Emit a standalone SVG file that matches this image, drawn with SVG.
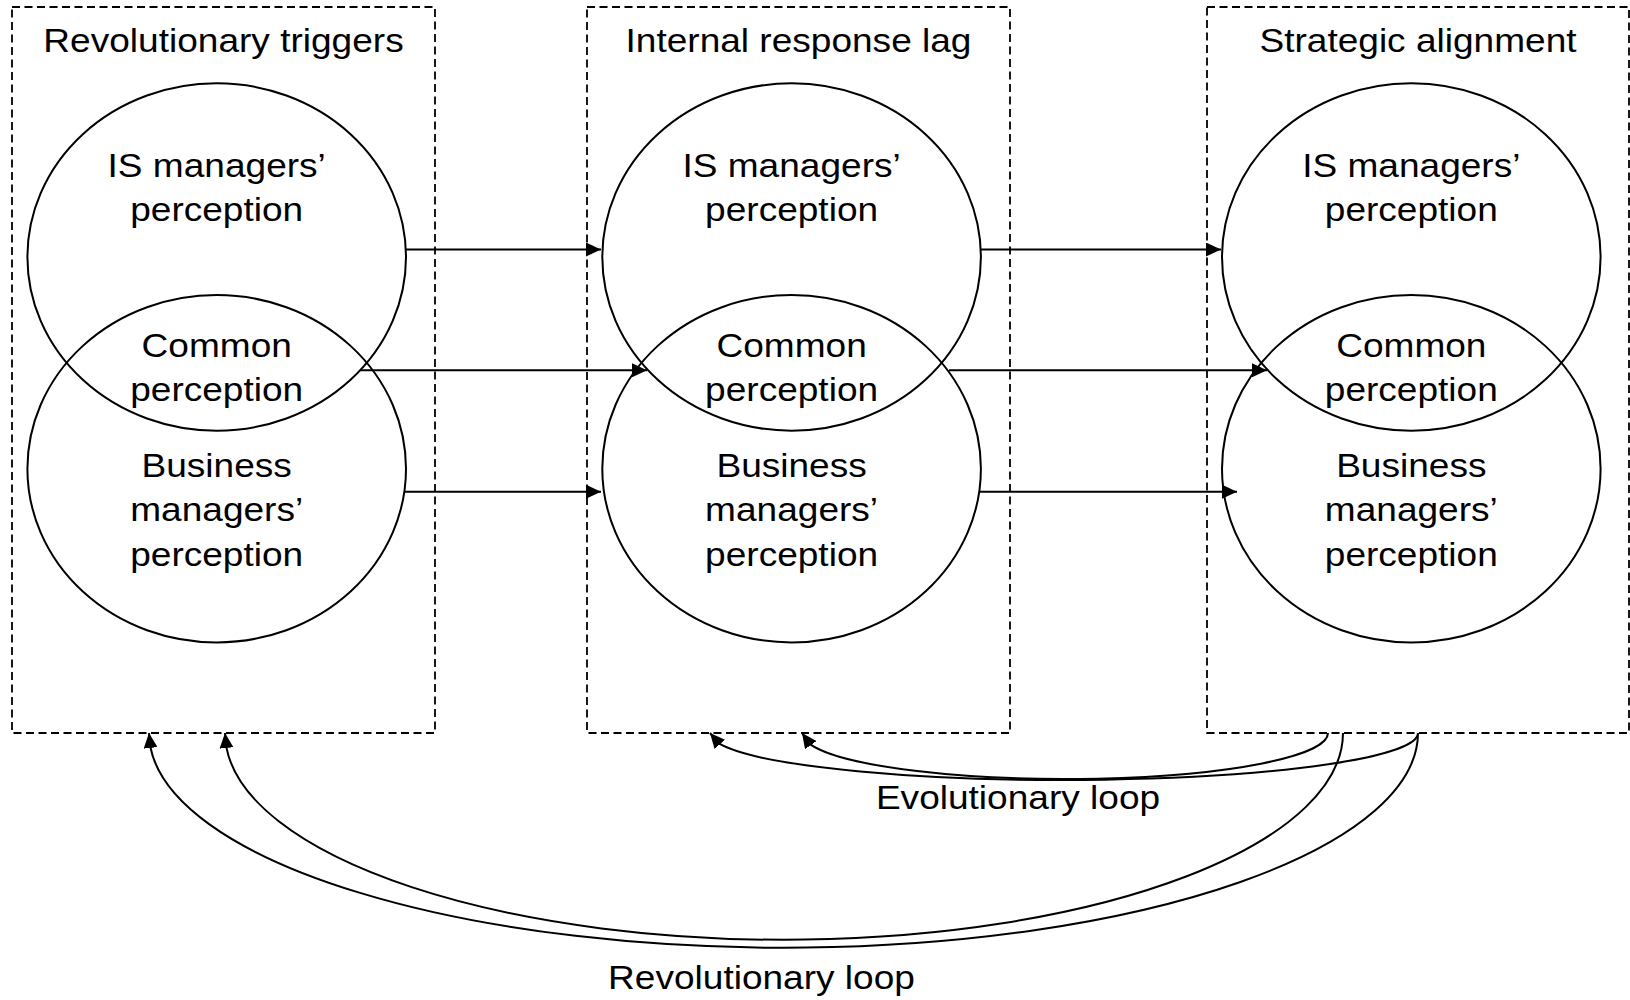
<svg xmlns="http://www.w3.org/2000/svg" xmlns:xlink="http://www.w3.org/1999/xlink" width="1630" height="1000" viewBox="0 0 1630 1000">
<style>
.box{fill:none;stroke:#000;stroke-width:1.8;stroke-dasharray:8 4.5}
.ell{fill:none;stroke:#000;stroke-width:2}
.t{font-family:"Liberation Sans",Arial,sans-serif;font-size:34px;text-anchor:middle;fill:#000}
.con{fill:none;stroke:#000;stroke-width:2;marker-end:url(#arr)}
</style>
<defs>
<marker id="arr" viewBox="0 0 15 14" refX="15" refY="7" markerWidth="15" markerHeight="14" markerUnits="userSpaceOnUse" orient="auto">
<path d="M0,0 L15,7 L0,14 Z" fill="#000"/>
</marker>
</defs>
<rect width="1630" height="1000" fill="#fff"/>

<g id="box-revolutionary-triggers">
<rect class="box" x="12" y="7" width="423" height="726"/>
<text class="t" transform="translate(223.5,0) scale(1.09,1)" x="0" y="52">Revolutionary triggers</text>
</g>
<g id="box-internal-response-lag">
<rect class="box" x="587" y="7" width="423" height="726"/>
<text class="t" transform="translate(798.5,0) scale(1.09,1)" x="0" y="52">Internal response lag</text>
</g>
<g id="box-strategic-alignment">
<rect class="box" x="1207" y="7" width="422" height="726"/>
<text class="t" transform="translate(1418,0) scale(1.09,1)" x="0" y="52">Strategic alignment</text>
</g>

<g id="rt-is">
<ellipse class="ell" cx="216.7" cy="257" rx="189.3" ry="173.7"/>
<text class="t" transform="translate(216.7,0) scale(1.09,1)" x="0" y="177">IS managers’</text>
<text class="t" transform="translate(216.7,0) scale(1.09,1)" x="0" y="221.5">perception</text>
</g>
<g id="rt-business">
<ellipse class="ell" cx="216.7" cy="468.7" rx="189.3" ry="173.7"/>
<text class="t" transform="translate(216.7,0) scale(1.09,1)" x="0" y="477">Business</text>
<text class="t" transform="translate(216.7,0) scale(1.09,1)" x="0" y="521.5">managers’</text>
<text class="t" transform="translate(216.7,0) scale(1.09,1)" x="0" y="566">perception</text>
</g>
<g id="rt-common">
<text class="t" transform="translate(216.7,0) scale(1.09,1)" x="0" y="357">Common</text>
<text class="t" transform="translate(216.7,0) scale(1.09,1)" x="0" y="401.5">perception</text>
</g>

<g id="irl-is">
<ellipse class="ell" cx="791.6" cy="257" rx="189.3" ry="173.7"/>
<text class="t" transform="translate(791.6,0) scale(1.09,1)" x="0" y="177">IS managers’</text>
<text class="t" transform="translate(791.6,0) scale(1.09,1)" x="0" y="221.5">perception</text>
</g>
<g id="irl-business">
<ellipse class="ell" cx="791.6" cy="468.7" rx="189.3" ry="173.7"/>
<text class="t" transform="translate(791.6,0) scale(1.09,1)" x="0" y="477">Business</text>
<text class="t" transform="translate(791.6,0) scale(1.09,1)" x="0" y="521.5">managers’</text>
<text class="t" transform="translate(791.6,0) scale(1.09,1)" x="0" y="566">perception</text>
</g>
<g id="irl-common">
<text class="t" transform="translate(791.6,0) scale(1.09,1)" x="0" y="357">Common</text>
<text class="t" transform="translate(791.6,0) scale(1.09,1)" x="0" y="401.5">perception</text>
</g>

<g id="sa-is">
<ellipse class="ell" cx="1411.3" cy="257" rx="189.3" ry="173.7"/>
<text class="t" transform="translate(1411.3,0) scale(1.09,1)" x="0" y="177">IS managers’</text>
<text class="t" transform="translate(1411.3,0) scale(1.09,1)" x="0" y="221.5">perception</text>
</g>
<g id="sa-business">
<ellipse class="ell" cx="1411.3" cy="468.7" rx="189.3" ry="173.7"/>
<text class="t" transform="translate(1411.3,0) scale(1.09,1)" x="0" y="477">Business</text>
<text class="t" transform="translate(1411.3,0) scale(1.09,1)" x="0" y="521.5">managers’</text>
<text class="t" transform="translate(1411.3,0) scale(1.09,1)" x="0" y="566">perception</text>
</g>
<g id="sa-common">
<text class="t" transform="translate(1411.3,0) scale(1.09,1)" x="0" y="357">Common</text>
<text class="t" transform="translate(1411.3,0) scale(1.09,1)" x="0" y="401.5">perception</text>
</g>

<g id="connectors">
<path class="con" d="M406,249.5 H601"/>
<path class="con" d="M981,249.5 H1221"/>
<path class="con" d="M360,370.3 H647"/>
<path class="con" d="M949,370.3 H1267"/>
<path class="con" d="M405,491.7 H601"/>
<path class="con" d="M979,491.7 H1237"/>
<path class="con" d="M1418,733 A354,47 0 0 1 719.3,743.7 L710,733"/>
<path class="con" d="M1328,733 A263,46 0 0 1 810.2,744.4 L802,733"/>
<path class="con" d="M1418,733 A634.5,215 0 0 1 150.6,748 L149,733"/>
<path class="con" d="M1343,733 A559,207 0 0 1 226.5,747.9 L225,733"/>
</g>

<g id="labels">
<text class="t" transform="translate(1018,0) scale(1.09,1)" x="0" y="809">Evolutionary loop</text>
<text class="t" transform="translate(761.5,0) scale(1.09,1)" x="0" y="989.5">Revolutionary loop</text>
</g>
</svg>
